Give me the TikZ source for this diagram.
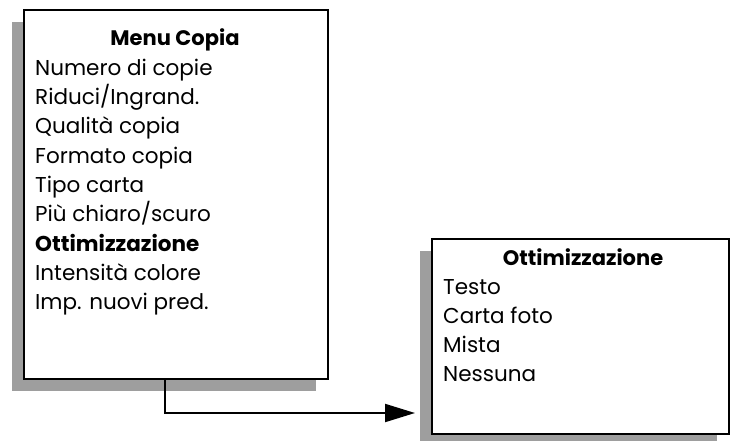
\documentclass[tikz,border=0pt]{standalone}
\usepackage{fontspec}
\setmainfont{Poppins}
\usetikzlibrary{arrows.meta,shadows}
\definecolor{shadowgray}{RGB}{158,158,158}

\tikzset{
  menubox/.style={draw, line width=2pt, fill=white, anchor=north west,
    drop shadow={shadow xshift=-12pt, shadow yshift=-12pt, fill=shadowgray, opacity=1}},
  entry/.style={anchor=base west, inner sep=0pt, font=\fontsize{21.5}{26}\selectfont},
  heading/.style={anchor=base, inner sep=0pt, font=\fontsize{21}{26}\selectfont\bfseries},
  conn/.style={line width=2pt, -{Triangle[length=30pt,width=18pt]}}
}

\begin{document}
\begin{tikzpicture}[x=1pt,y=-1pt]
\useasboundingbox (0,0) rectangle (730,441);

% Left box: copy menu
\node[menubox, minimum width=304pt, minimum height=369pt] (menu) at (23,9) {};
\node[heading] (menutitle) at (175,46) {Menu Copia};
\foreach \txt [count=\i] in {Numero di copie, Riduci/Ingrand., Qualità copia,
    Formato copia, Tipo carta, Più chiaro/scuro, {\textbf{Ottimizzazione}},
    Intensità colore, Imp. nuovi pred.}
  \node[entry] (m\i) at (35,46+29.3*\i) {\txt};

% Right box: submenu
\node[menubox, minimum width=297pt, minimum height=195pt] (opt) at (431,238) {};
\node[heading] (opttitle) at (583,265) {Ottimizzazione};
\foreach \txt [count=\i] in {Testo, Carta foto, Mista, Nessuna}
  \node[entry] (o\i) at (443,265+29.2*\i) {\txt};

% Connector
\coordinate (optin) at (415,413);
\draw[conn] ([xshift=-11pt]menu.south) |- (optin);
\end{tikzpicture}
\end{document}
